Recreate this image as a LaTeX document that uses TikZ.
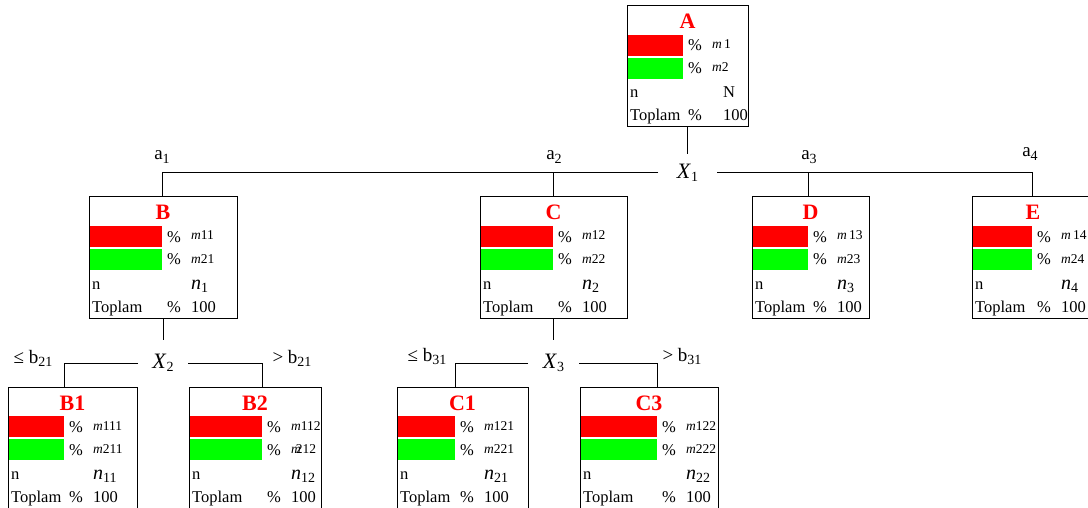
\documentclass[tikz,border=0pt]{standalone}
\usepackage{fontspec}
\setmainfont{Liberation Serif}
\definecolor{barred}{RGB}{255,0,0}
\definecolor{bargreen}{RGB}{0,255,0}
\tikzset{
  tbox/.style={draw=black, line width=1pt, minimum height=121pt, inner sep=0pt, outer sep=0pt, anchor=north west},
  ttl/.style={text=barred, font=\fontsize{22}{22}\selectfont\bfseries, inner sep=0pt, anchor=base},
  txt/.style={font=\fontsize{16.5}{16.5}\selectfont, inner sep=0pt, anchor=base west},
  mlab/.style={font=\fontsize{13.5}{13.5}\selectfont, inner sep=0pt, anchor=base west},
  nlab/.style={font=\fontsize{20}{20}\selectfont, inner sep=0pt, anchor=base west},
  conn/.style={line width=1pt, draw=black},
  brlab/.style={font=\fontsize{19}{19}\selectfont, inner sep=0pt, anchor=base},
  xlab/.style={font=\fontsize{22}{22}\selectfont, inner sep=0pt, outer sep=0pt},
}
\newcommand\subs[1]{\raisebox{-3.5pt}{\fontsize{14}{14}\selectfont #1}}
\newcommand\mm[1]{\textit{m}#1}
\newcommand\nn[1]{\textit{n}\subs{#1}}
\def\moff{29}
\def\voff{29}
% #1 name, #2 left, #3 top, #4 width, #5 bar width, #6 title, #7 m1, #8 m2, #9 n
\newcommand\treebox[9]{%
  \fill[barred] (#2,#3+29) rectangle ++(#5,21);
  \fill[bargreen] (#2,#3+52) rectangle ++(#5,21);
  \node[tbox, minimum width=#4pt] (#1) at (#2,#3) {};
  \coordinate (#1-top) at (#2+#5+0.5,#3);
  \node[ttl] (#1-t) at (#2+#4/2,#3+23) {#6};
  \node[txt] (#1-p1) at (#2+#5+5,#3+45) {\%};
  \node[txt] (#1-p2) at (#2+#5+5,#3+68) {\%};
  \node[mlab] (#1-m1) at (#2+#5+\moff,#3+43) {#7};
  \node[mlab] (#1-m2) at (#2+#5+\moff,#3+66) {#8};
  \node[txt] (#1-n) at (#2+3,#3+92) {n};
  \node[nlab] (#1-nv) at (#2+#5+\voff,#3+92) {#9};
  \node[txt] (#1-tp) at (#2+3,#3+115) {Toplam};
  \node[txt] (#1-p3) at (#2+#5+5,#3+115) {\%};
  \node[txt] (#1-h) at (#2+#5+\voff,#3+115) {100};
}
\begin{document}
\begin{tikzpicture}[x=1pt,y=-1pt]
\useasboundingbox[fill=white] (0,0) rectangle (1088,508);

\def\voff{40}
\treebox{A}{627}{6}{121}{56}{A}{\mm{\,1}}{\mm{2}}{\fontsize{16.5}{16.5}\selectfont N}
\def\voff{29}
\treebox{B}{89}{197}{148}{73}{B}{\mm{11}}{\mm{21}}{\nn{1}}
\treebox{C}{480}{197}{147}{73}{C}{\mm{12}}{\mm{22}}{\nn{2}}
\treebox{D}{752}{197}{117}{56}{D}{\mm{\,13}}{\mm{23}}{\nn{3}}
\treebox{E}{972}{197}{122}{60}{E}{\mm{\,14}}{\mm{24}}{\nn{4}}
\treebox{B1}{8}{387}{129}{56}{B1}{\mm{111}}{\mm{211}}{\nn{11}}
\treebox{B2}{189}{387}{132}{73}{B2}{\mm{112}}{\textit{m}\kern-5pt 212}{\nn{12}}
\treebox{C1}{397}{387}{131}{58}{C1}{\mm{121}}{\mm{221}}{\nn{21}}
\treebox{C3}{580}{387}{138}{77}{C3}{\mm{122}}{\mm{222}}{\nn{22}}

% split variable nodes
\node[xlab, minimum width=59pt, minimum height=38pt] (X1) at (687.5,173) {\textit{X}\subs{1}};
\node[xlab, minimum width=50pt, minimum height=46pt] (X2) at (163,363) {\textit{X}\subs{2}};
\node[xlab, minimum width=51pt, minimum height=46pt] (X3) at (553.5,363) {\textit{X}\subs{3}};

% connectors
\draw[conn] (A.south) -- (A.south |- X1.north);
\draw[conn] (X1.west) -| (B-top);
\draw[conn] (X1.west) -| (C-top);
\draw[conn] (X1.east) -| (D-top);
\draw[conn] (X1.east) -| (E-top);
\draw[conn] (B.south) -- (B.south |- X2.north);
\draw[conn] (X2.west) -| (B1-top);
\draw[conn] (X2.east) -| (B2-top);
\draw[conn] (C.south) -- (C.south |- X3.north);
\draw[conn] (X3.west) -| (C1-top);
\draw[conn] (X3.east) -| (C3-top);

% branch labels
\node[brlab] (la1) at (162,160) {a\subs{1}};
\node[brlab] (la2) at (554,160) {a\subs{2}};
\node[brlab] (la3) at (809,160) {a\subs{3}};
\node[brlab] (la4) at (1030,157) {a\subs{4}};
\node[brlab] (lb1) at (33,363) {≤ b\subs{21}};
\node[brlab] (lb2) at (292,363) {> b\subs{21}};
\node[brlab] (lb3) at (427,361) {≤ b\subs{31}};
\node[brlab] (lb4) at (682,361) {> b\subs{31}};
\end{tikzpicture}
\end{document}
